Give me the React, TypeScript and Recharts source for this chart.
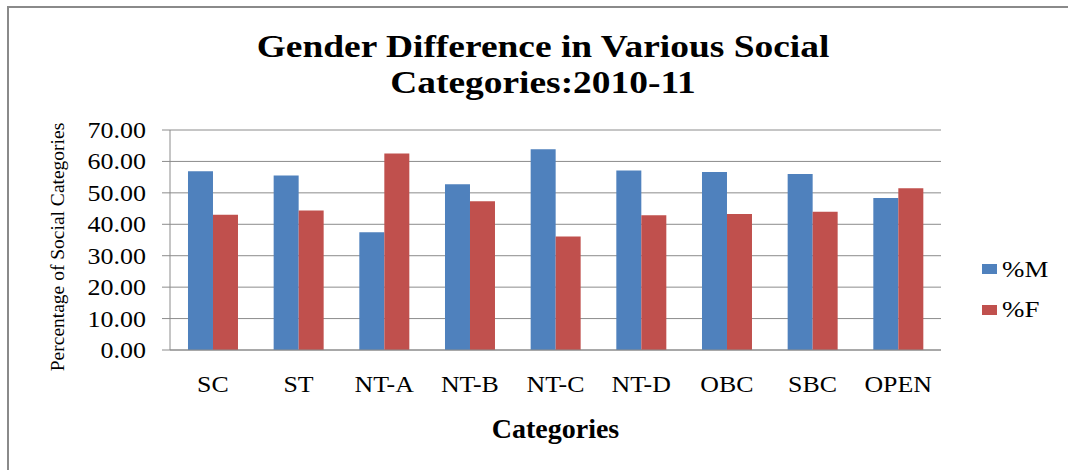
import React from "react";
import { BarChart, Bar, XAxis, YAxis, CartesianGrid } from "recharts";

const categories = ["SC", "ST", "NT-A", "NT-B", "NT-C", "NT-D", "OBC", "SBC", "OPEN"];
const male = [56.9, 55.5, 37.5, 52.7, 63.9, 57.1, 56.6, 56.0, 48.4];
const female = [43.0, 44.4, 62.5, 47.3, 36.1, 42.9, 43.3, 44.0, 51.5];
const yTicks = [0, 10, 20, 30, 40, 50, 60, 70];

const SERIES = [
  { key: "m", label: "%M", color: "#4F81BD" },
  { key: "f", label: "%F", color: "#C0504D" },
];

const FONT = '"Liberation Serif", "Times New Roman", serif';

const data = categories.map((name, i) => ({ name, m: male[i], f: female[i] }));

// the source picture is a little wide, so text is stretched sideways
function YTick(props: any) {
  const { x, y, payload } = props;
  const sx = 1.13;
  return (
    <text
      x={x / sx}
      y={y}
      transform={`scale(${sx},1)`}
      textAnchor="end"
      dominantBaseline="central"
      fontSize="23px"
      fontFamily={FONT}
      fill="#000"
    >
      {Number(payload.value).toFixed(2)}
    </text>
  );
}

function XTick(props: any) {
  const { x, y, payload } = props;
  const sx = 1.1;
  return (
    <text
      x={x / sx}
      y={y + 16}
      transform={`scale(${sx},1)`}
      textAnchor="middle"
      fontSize="23.5px"
      fontFamily={FONT}
      fill="#000"
    >
      {payload.value}
    </text>
  );
}

function YLabel({ viewBox }: any) {
  const cx = viewBox.x - 3;
  const cy = viewBox.y + viewBox.height / 2 + 7;
  return (
    <text
      transform={`translate(${cx},${cy}) rotate(-90)`}
      textAnchor="middle"
      dominantBaseline="central"
      fontSize="19.5px"
      fontFamily={FONT}
      fill="#000"
    >
      Percentage of Social Categories
    </text>
  );
}

export default function App() {
  return (
    <div
      style={{
        position: "absolute",
        left: 0,
        top: 0,
        width: 1068,
        height: 470,
        background: "#fff",
        overflow: "hidden",
        fontFamily: FONT,
      }}
    >
      <div
        style={{
          position: "absolute",
          left: 7,
          top: 6,
          width: 1100,
          height: 500,
          borderTop: "2px solid #8a8a8a",
          borderLeft: "2px solid #8a8a8a",
        }}
      />
      <div
        style={{
          position: "absolute",
          left: 0,
          top: 28,
          width: 1086,
          textAlign: "center",
          fontSize: 32,
          fontWeight: "bold",
          lineHeight: "36px",
          color: "#000",
          transform: "scaleX(1.17)",
          transformOrigin: "543px 0",
        }}
      >
        Gender Difference in Various Social
        <br />
        Categories:2010-11
      </div>
      <BarChart
        width={1068}
        height={470}
        data={data}
        margin={{ top: 130, right: 127, bottom: 30, left: 60 }}
        barCategoryGap="21%"
        barGap={0}
        style={{ position: "absolute", left: 0, top: 0 }}
      >
        <CartesianGrid vertical={false} stroke="#8c8c8c" strokeWidth={1} />
        <XAxis
          dataKey="name"
          height={90}
          axisLine={{ stroke: "#8c8c8c" }}
          tickLine={false}
          tickMargin={20}
          tick={(p: any) => <XTick {...p} />}
          interval={0}
          label={{
            value: "Categories",
            position: "insideBottom",
            offset: 2,
            style: { fontSize: 28, fontWeight: "bold", fontFamily: FONT, fill: "#000" },
          }}
        />
        <YAxis
          width={110}
          domain={[0, 70]}
          ticks={yTicks}
          interval={0}
          axisLine={{ stroke: "#8c8c8c" }}
          tickLine={{ stroke: "#8c8c8c" }}
          tickSize={8}
          tickMargin={16}
          tick={(p: any) => <YTick {...p} />}
          label={<YLabel />}
        />
        {SERIES.map((s) => (
          <Bar key={s.key} dataKey={s.key} fill={s.color} isAnimationActive={false} />
        ))}
      </BarChart>
      {SERIES.map((s, i) => (
        <React.Fragment key={s.key}>
          <span
            style={{
              position: "absolute",
              left: 982,
              top: 264 + i * 41,
              width: 15,
              height: 10,
              background: s.color,
            }}
          />
          <div
            style={{
              position: "absolute",
              left: 1002,
              top: 256.5 + i * 40.5,
              fontSize: 24,
              lineHeight: "24px",
              color: "#000",
              whiteSpace: "nowrap",
              transform: "scaleX(1.12)",
              transformOrigin: "0 0",
            }}
          >
            {s.label}
          </div>
        </React.Fragment>
      ))}
    </div>
  );
}
